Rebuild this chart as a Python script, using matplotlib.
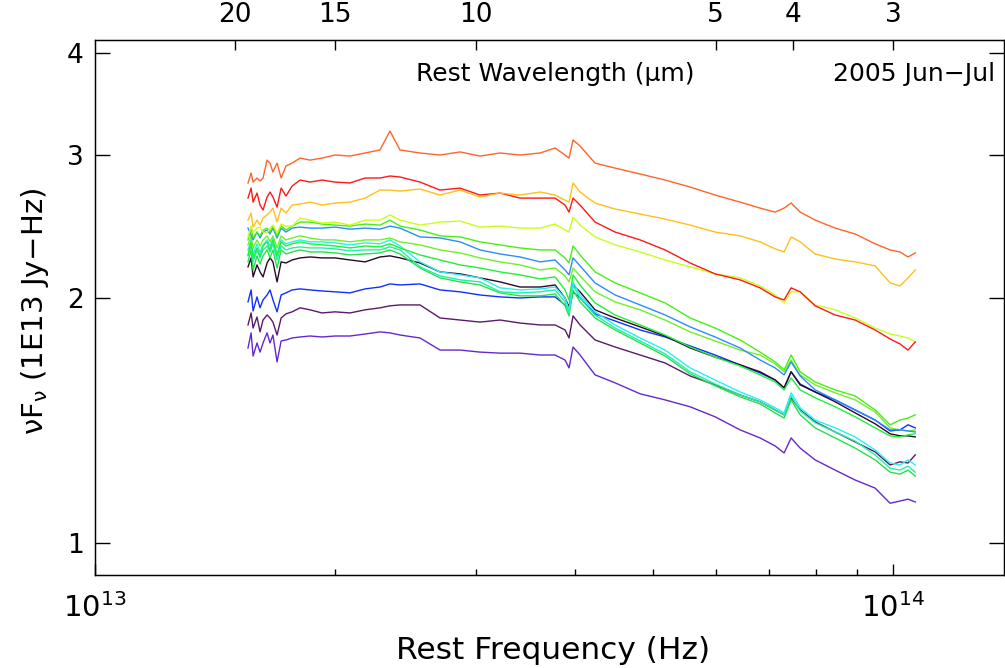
import numpy as np
import matplotlib
matplotlib.use("Agg")
import matplotlib.pyplot as plt
from matplotlib.ticker import NullLocator, NullFormatter, FixedLocator, FixedFormatter

plt.rcParams['font.family'] = ['DejaVu Sans']
plt.rcParams['mathtext.fontset'] = 'custom'
plt.rcParams['mathtext.rm'] = 'DejaVu Sans'
plt.rcParams['mathtext.it'] = 'DejaVu Sans'

# Rest frequency grid (units of 1e13 Hz)
freq13 = [1.555, 1.569, 1.578, 1.596, 1.610, 1.624, 1.643, 1.657, 1.671, 1.691, 1.711, 1.735, 1.766,
          1.807, 1.860, 1.925, 1.999, 2.087, 2.180, 2.276, 2.342, 2.411,
          2.554, 2.706, 2.867, 3.037, 3.218, 3.409, 3.612,
          3.771, 3.881, 3.926, 3.972, 4.053,
          4.232, 4.484, 4.820, 5.180, 5.568, 5.984, 6.432, 6.813,
          7.115, 7.302, 7.451, 7.648, 7.986, 8.461, 8.963, 9.494, 9.914, 10.20, 10.44, 10.66]

orange = [2.769, 2.848, 2.776, 2.808, 2.784, 2.808, 2.954, 2.929, 2.856, 2.929, 2.808, 2.905, 2.929,
          2.971, 2.954, 2.971, 2.997, 2.988, 3.014, 3.040, 3.207, 3.040,
          3.014, 2.997, 3.023, 2.988, 3.014, 2.997, 3.014,
          3.057, 2.997, 2.971, 3.127, 3.074,
          2.929, 2.888, 2.840, 2.792, 2.737, 2.676, 2.623, 2.579,
          2.550, 2.579, 2.616, 2.550, 2.493, 2.437, 2.397, 2.331, 2.291, 2.278, 2.246, 2.272]
gold = [2.493, 2.543, 2.444, 2.493, 2.458, 2.507, 2.529, 2.550, 2.579, 2.479, 2.579, 2.543, 2.601,
        2.608, 2.623, 2.601, 2.616, 2.623, 2.653, 2.714, 2.714, 2.706,
        2.722, 2.676, 2.714, 2.661, 2.691, 2.676, 2.699,
        2.676, 2.638, 2.623, 2.769, 2.699,
        2.616, 2.572, 2.536, 2.500, 2.458, 2.410, 2.384, 2.344,
        2.298, 2.278, 2.377, 2.344, 2.265, 2.233, 2.215, 2.190, 2.087, 2.069, 2.117, 2.165]
red = [2.653, 2.729, 2.623, 2.691, 2.601, 2.565, 2.661, 2.699, 2.661, 2.586, 2.729, 2.668, 2.745,
       2.792, 2.776, 2.792, 2.776, 2.769, 2.808, 2.808, 2.824, 2.816,
       2.776, 2.714, 2.729, 2.676, 2.691, 2.653, 2.653,
       2.653, 2.601, 2.550, 2.653, 2.601,
       2.479, 2.410, 2.357, 2.291, 2.208, 2.141, 2.105, 2.058,
       2.006, 1.989, 2.058, 2.035, 1.956, 1.906, 1.879, 1.827, 1.781, 1.756, 1.726, 1.766]
yellowgreen = [2.377, 2.451, 2.410, 2.437, 2.444, 2.410, 2.404, 2.437, 2.458, 2.404, 2.465, 2.451, 2.451,
               2.507, 2.493, 2.472, 2.479, 2.458, 2.493, 2.493, 2.529, 2.493,
               2.458, 2.479, 2.486, 2.444, 2.451, 2.437, 2.437,
               2.465, 2.424, 2.410, 2.514, 2.458,
               2.377, 2.324, 2.278, 2.227, 2.184, 2.141, 2.117, 2.069,
               2.017, 1.972, 2.035, 2.035, 1.961, 1.934, 1.890, 1.837, 1.806, 1.796, 1.786, 1.766]
green_a = [2.357, 2.437, 2.370, 2.410, 2.384, 2.424, 2.437, 2.410, 2.451, 2.384, 2.451, 2.424, 2.451,
           2.479, 2.479, 2.465, 2.458, 2.451, 2.465, 2.458, 2.493, 2.451,
           2.424, 2.384, 2.377, 2.344, 2.324, 2.304, 2.291,
           2.291, 2.240, 2.208, 2.317, 2.259,
           2.153, 2.087, 2.029, 1.972, 1.890, 1.837, 1.776, 1.716,
           1.669, 1.632, 1.702, 1.623, 1.577, 1.542, 1.516, 1.457, 1.397, 1.416, 1.424, 1.437]
lightblue = [2.437, 2.390, 2.357, 2.410, 2.370, 2.410, 2.424, 2.397, 2.437, 2.370, 2.437, 2.410, 2.437,
             2.444, 2.437, 2.437, 2.444, 2.430, 2.437, 2.430, 2.451, 2.437,
             2.377, 2.370, 2.344, 2.291, 2.265, 2.246, 2.215,
             2.227, 2.165, 2.135, 2.240, 2.190,
             2.087, 2.017, 1.961, 1.906, 1.843, 1.791, 1.736, 1.678,
             1.641, 1.609, 1.669, 1.604, 1.542, 1.499, 1.457, 1.416, 1.377, 1.377, 1.373, 1.369]
green_b = [2.324, 2.384, 2.304, 2.357, 2.317, 2.357, 2.384, 2.344, 2.384, 2.304, 2.384, 2.357, 2.370,
           2.384, 2.370, 2.357, 2.357, 2.344, 2.357, 2.357, 2.370, 2.344,
           2.324, 2.291, 2.272, 2.240, 2.215, 2.196, 2.165,
           2.177, 2.129, 2.093, 2.177, 2.129,
           2.035, 1.978, 1.934, 1.879, 1.817, 1.771, 1.726, 1.702,
           1.660, 1.623, 1.678, 1.609, 1.564, 1.529, 1.499, 1.449, 1.385, 1.377, 1.373, 1.377]
green_c = [2.259, 2.344, 2.240, 2.304, 2.253, 2.317, 2.344, 2.291, 2.357, 2.253, 2.344, 2.317, 2.331,
           2.344, 2.331, 2.324, 2.317, 2.304, 2.317, 2.311, 2.331, 2.304,
           2.259, 2.227, 2.196, 2.177, 2.153, 2.135, 2.111,
           2.123, 2.046, 1.989, 2.135, 2.075,
           1.972, 1.906, 1.853, 1.801, 1.741, 1.692, 1.650, 1.609,
           1.577, 1.542, 1.595, 1.542, 1.508, 1.470, 1.429, 1.385, 1.354, 1.350, 1.358, 1.362]
black = [2.184, 2.240, 2.123, 2.196, 2.153, 2.123, 2.208, 2.240, 2.215, 2.093, 2.215, 2.208, 2.227,
         2.240, 2.246, 2.240, 2.240, 2.227, 2.215, 2.246, 2.253, 2.240,
         2.208, 2.153, 2.141, 2.117, 2.093, 2.063, 2.063,
         2.075, 2.000, 1.950, 2.075, 2.035,
         1.934, 1.890, 1.843, 1.796, 1.736, 1.692, 1.655, 1.623,
         1.586, 1.551, 1.623, 1.564, 1.533, 1.491, 1.445, 1.401, 1.362, 1.354, 1.354, 1.350]
blue = [1.978, 2.046, 1.928, 2.006, 1.945, 1.989, 2.017, 2.046, 1.989, 1.923, 2.017, 2.029, 2.046,
        2.052, 2.046, 2.040, 2.035, 2.029, 2.052, 2.063, 2.081, 2.075,
        2.081, 2.046, 2.035, 2.017, 2.006, 2.000, 2.006,
        2.006, 1.961, 1.934, 2.035, 2.000,
        1.912, 1.874, 1.827, 1.791, 1.746, 1.702, 1.655, 1.618,
        1.586, 1.551, 1.623, 1.568, 1.533, 1.499, 1.457, 1.416, 1.373, 1.377, 1.397, 1.385]
cyan = [2.291, 2.357, 2.259, 2.331, 2.278, 2.324, 2.357, 2.317, 2.370, 2.265, 2.357, 2.331, 2.344,
        2.357, 2.344, 2.344, 2.337, 2.324, 2.337, 2.331, 2.357, 2.317,
        2.215, 2.153, 2.135, 2.117, 2.058, 2.046, 2.052,
        2.063, 2.000, 1.934, 2.093, 2.017,
        1.923, 1.853, 1.786, 1.726, 1.641, 1.586, 1.533, 1.499,
        1.466, 1.445, 1.529, 1.466, 1.416, 1.385, 1.350, 1.301, 1.254, 1.247, 1.265, 1.247]
aqua = [2.253, 2.317, 2.215, 2.291, 2.240, 2.291, 2.317, 2.278, 2.331, 2.227, 2.317, 2.291, 2.304,
        2.311, 2.304, 2.304, 2.298, 2.285, 2.291, 2.291, 2.311, 2.291,
        2.184, 2.129, 2.105, 2.093, 2.035, 2.029, 2.035,
        2.046, 1.978, 1.917, 2.075, 2.000,
        1.906, 1.837, 1.771, 1.707, 1.623, 1.568, 1.520, 1.491,
        1.457, 1.437, 1.516, 1.453, 1.405, 1.369, 1.334, 1.283, 1.236, 1.229, 1.243, 1.222]
green_d = [2.215, 2.291, 2.165, 2.253, 2.202, 2.253, 2.291, 2.240, 2.291, 2.177, 2.291, 2.265, 2.278,
           2.291, 2.278, 2.278, 2.272, 2.259, 2.265, 2.272, 2.291, 2.265,
           2.177, 2.117, 2.093, 2.075, 2.029, 2.012, 2.012,
           2.023, 1.956, 1.901, 2.046, 1.978,
           1.890, 1.827, 1.761, 1.697, 1.614, 1.560, 1.512, 1.482,
           1.445, 1.424, 1.499, 1.437, 1.385, 1.346, 1.308, 1.265, 1.222, 1.215, 1.229, 1.208]
darkpurple = [1.853, 1.917, 1.837, 1.895, 1.817, 1.879, 1.906, 1.890, 1.868, 1.801, 1.890, 1.912, 1.923,
              1.945, 1.934, 1.917, 1.923, 1.917, 1.934, 1.945, 1.956, 1.961,
              1.961, 1.890, 1.879, 1.868, 1.879, 1.863, 1.853,
              1.853, 1.827, 1.786, 1.901, 1.853,
              1.776, 1.741, 1.702, 1.664, 1.604, 1.564, 1.520, 1.491,
              1.457, 1.437, 1.508, 1.457, 1.409, 1.369, 1.331, 1.294, 1.247, 1.258, 1.254, 1.283]
violet = [1.736, 1.812, 1.697, 1.761, 1.716, 1.761, 1.812, 1.761, 1.801, 1.669, 1.771, 1.776, 1.786,
          1.791, 1.796, 1.791, 1.796, 1.796, 1.806, 1.817, 1.812, 1.801,
          1.786, 1.726, 1.726, 1.716, 1.711, 1.711, 1.702,
          1.702, 1.678, 1.641, 1.741, 1.702,
          1.609, 1.573, 1.525, 1.499, 1.470, 1.429, 1.377, 1.346,
          1.316, 1.290, 1.346, 1.308, 1.265, 1.229, 1.195, 1.168, 1.119, 1.126, 1.132, 1.123]

series = [
    (violet, '#6428D0'), (darkpurple, '#5A1A6A'), (blue, '#1030FF'), (black, '#2A0A28'),
    (green_d, '#28E048'), (aqua, '#20F0A8'), (cyan, '#28F0F0'), (green_c, '#20F038'),
    (green_b, '#70F028'), (lightblue, '#2C8CFF'), (green_a, '#48F010'),
    (yellowgreen, '#C8FF18'), (red, '#FF1818'), (gold, '#FFC018'), (orange, '#FF6428'),
]

wavelength_ticks = [20, 15, 10, 5, 4, 3]
y_ticks = [1, 2, 3, 4]
C_UM = 2.998e14  # speed of light in micron/s

fig = plt.figure(figsize=(10.05, 6.68), dpi=100)
ax = fig.add_axes([0.0945, 0.1392, 0.9045, 0.8009])

f = np.array(freq13) * 1e13
for vals, col in series:
    ax.plot(f, vals, color=col, lw=1.0, solid_joinstyle='round')

ax.set_xscale('log')
ax.set_yscale('log')
xmin, xmax = 1e13, 1.377e14
ax.set_xlim(xmin, xmax)
ax.set_ylim(0.9134, 4.149)

ax.yaxis.set_major_locator(FixedLocator(y_ticks))
ax.yaxis.set_major_formatter(FixedFormatter([str(v) for v in y_ticks]))
ax.yaxis.set_minor_locator(NullLocator())
ax.xaxis.set_minor_formatter(NullFormatter())

for s in ax.spines.values():
    s.set_linewidth(1.0)

ax.tick_params(axis='y', which='major', direction='in', length=11, width=1.0,
               labelsize=19, pad=8, right=True)
ax.tick_params(axis='x', which='major', direction='in', length=8, width=1.0,
               labelsize=21, pad=13, top=False)
ax.tick_params(axis='x', which='minor', direction='in', length=4, width=1.0, top=False)

ax2 = ax.twiny()
ax2.set_xscale('log')
ax2.set_xlim(xmin, xmax)
ax2.xaxis.set_major_locator(FixedLocator([C_UM / w for w in wavelength_ticks]))
ax2.xaxis.set_major_formatter(FixedFormatter([str(w) for w in wavelength_ticks]))
ax2.xaxis.set_minor_locator(NullLocator())
ax2.tick_params(axis='x', which='major', direction='in', length=7, width=1.0,
                labelsize=19, pad=9)

fig.text(553 / 1005, 1 - 659 / 668, 'Rest Frequency (Hz)', ha='center', va='baseline', fontsize=22.5)
fig.text(35 / 1005, 1 - 311 / 668, r'$\nu F_\nu$ (1E13 Jy−Hz)', ha='center', va='center',
         rotation=90, fontsize=21)
fig.text(555 / 1005, 1 - 81 / 668, 'Rest Wavelength (µm)', ha='center', va='baseline', fontsize=18)
fig.text(995 / 1005, 1 - 81 / 668, '2005 Jun−Jul', ha='right', va='baseline', fontsize=18)

fig.savefig('out.png', dpi=100)
